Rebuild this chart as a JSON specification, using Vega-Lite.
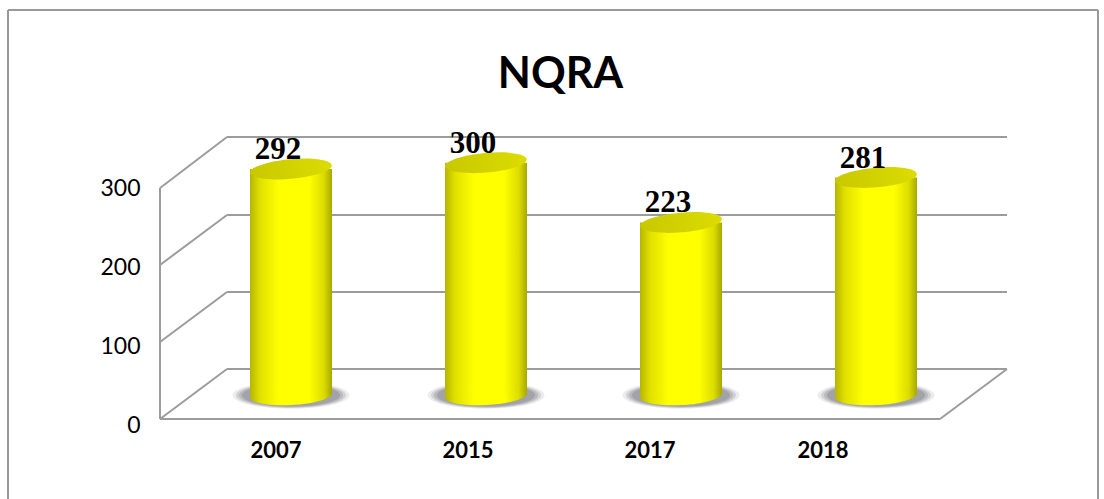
{"$schema":"https://vega.github.io/schema/vega-lite/v6.json","width":847,"height":320,"autosize":{"type":"none"},"padding":{"left":160,"top":110,"right":97,"bottom":69},"background":"white","title":{"text":"NQRA","font":"Lato","fontSize":43,"fontWeight":"bold","color":"#000000","anchor":"middle","dx":-23,"dy":108,"offset":20},"config":{"view":{"stroke":null}},"datasets":{"walls":[{"kind":"frame","a":-152,"b":-96.6,"a2":-152,"b2":524.8},{"kind":"frame","a":-152,"b":524.8,"a2":938,"b2":524.8},{"kind":"frame","a":938,"b":524.8,"a2":938,"b2":-96.6},{"kind":"wall","a":0,"b":5.1,"a2":0,"b2":298.6},{"kind":"wall","a":0,"b":5.1,"a2":780,"b2":5.1},{"kind":"wall","a":780,"b":5.1,"a2":847,"b2":68.6},{"kind":"wall","a":67,"b":68.6,"a2":847,"b2":68.6},{"kind":"wall","a":67,"b":166.5,"a2":847,"b2":166.5},{"kind":"wall","a":67,"b":264.3,"a2":847,"b2":264.3},{"kind":"wall","a":67,"b":363.4,"a2":847,"b2":363.4},{"kind":"wall","a":0,"b":5.1,"a2":67,"b2":68.6},{"kind":"wall","a":0,"b":102.9,"a2":67,"b2":166.5},{"kind":"wall","a":0,"b":200.8,"a2":67,"b2":264.3},{"kind":"wall","a":0,"b":298.6,"a2":67,"b2":363.4}],"bars":[{"year":"2007","value":292},{"year":"2015","value":300},{"year":"2017","value":223},{"year":"2018","value":281}]},"layer":[{"data":{"name":"walls"},"mark":{"type":"rule","strokeWidth":2},"encoding":{"x":{"field":"a","type":"quantitative","scale":{"domain":[0,847],"nice":false,"zero":false},"axis":null},"x2":{"field":"a2"},"y":{"field":"b","type":"quantitative","scale":{"domain":[-8.894,397.7],"nice":false,"zero":false},"axis":{"title":null,"values":[0,100,200,300],"grid":false,"domain":false,"ticks":false,"labelPadding":20,"labelOffset":2,"labelFont":"Lato","labelFontSize":23,"labelColor":"#000000"}},"y2":{"field":"b2"},"color":{"field":"kind","type":"nominal","legend":null,"scale":{"domain":["frame","wall"],"range":["#999999","#9c9c9c"]}}}},{"data":{"name":"bars"},"encoding":{"x":{"field":"year","type":"nominal","sort":null,"scale":{"type":"band","paddingInner":0.5795,"paddingOuter":0.4615,"align":0.5},"axis":{"title":null,"labelAngle":0,"domain":false,"ticks":false,"grid":false,"labelPadding":10,"labelFont":"Lato","labelFontSize":22,"labelFontWeight":"bold","labelColor":"#000000","encoding":{"labels":{"dx":{"value":{"expr":"datum.value==='2007'?-15:datum.value==='2015'?-18:datum.value==='2017'?-31:-53"}}}}}},"y":{"type":"quantitative","scale":{"domain":[-44.8,368.1],"nice":false,"zero":false},"axis":null}},"layer":[{"mark":{"type":"point","filled":true,"opacity":0.12,"color":"#5f5f6c","strokeWidth":0,"size":13689,"shape":"M-1,0C-1,-0.13,-0.55,-0.23,0,-0.23C0.55,-0.23,1,-0.13,1,0C1,0.13,0.55,0.23,0,0.23C-0.55,0.23,-1,0.13,-1,0Z"},"encoding":{"y":{"datum":0}}},{"mark":{"type":"point","filled":true,"opacity":0.18,"color":"#5f5f6c","strokeWidth":0,"size":12100,"shape":"M-1,0C-1,-0.13,-0.55,-0.23,0,-0.23C0.55,-0.23,1,-0.13,1,0C1,0.13,0.55,0.23,0,0.23C-0.55,0.23,-1,0.13,-1,0Z"},"encoding":{"y":{"datum":0}}},{"mark":{"type":"point","filled":true,"opacity":0.22,"color":"#5f5f6c","strokeWidth":0,"size":10816,"shape":"M-1,0C-1,-0.13,-0.55,-0.23,0,-0.23C0.55,-0.23,1,-0.13,1,0C1,0.13,0.55,0.23,0,0.23C-0.55,0.23,-1,0.13,-1,0Z"},"encoding":{"y":{"datum":0}}},{"mark":{"type":"point","filled":true,"opacity":0.25,"color":"#5f5f6c","strokeWidth":0,"size":9604,"shape":"M-1,0C-1,-0.13,-0.55,-0.23,0,-0.23C0.55,-0.23,1,-0.13,1,0C1,0.13,0.55,0.23,0,0.23C-0.55,0.23,-1,0.13,-1,0Z"},"encoding":{"y":{"datum":0}}},{"mark":{"type":"bar","width":82,"fill":{"gradient":"linear","x1":0,"y1":0,"x2":1,"y2":0,"stops":[{"offset":0,"color":"#b5b500"},{"offset":0.12,"color":"#e0e000"},{"offset":0.35,"color":"#ffff00"},{"offset":0.72,"color":"#ffff00"},{"offset":0.9,"color":"#dcdc00"},{"offset":1,"color":"#a8a800"}]}},"encoding":{"y":{"field":"value","type":"quantitative"},"y2":{"datum":0}}},{"mark":{"type":"point","filled":true,"opacity":1,"strokeWidth":0,"size":6724,"angle":-3,"shape":"M-1,0C-1,-0.13,-0.55,-0.24,0,-0.24C0.55,-0.24,1,-0.13,1,0C1,0.13,0.55,0.24,0,0.24C-0.55,0.24,-1,0.13,-1,0Z","fill":{"gradient":"linear","x1":0,"y1":0,"x2":1,"y2":0,"stops":[{"offset":0,"color":"#b5b500"},{"offset":0.12,"color":"#e0e000"},{"offset":0.35,"color":"#ffff00"},{"offset":0.72,"color":"#ffff00"},{"offset":0.9,"color":"#dcdc00"},{"offset":1,"color":"#a8a800"}]}},"encoding":{"y":{"datum":0}}},{"mark":{"type":"point","filled":true,"opacity":1,"strokeWidth":0,"size":6724,"angle":-5,"shape":"M-1,0C-1,-0.13,-0.55,-0.24,0,-0.24C0.55,-0.24,1,-0.13,1,0C1,0.13,0.55,0.24,0,0.24C-0.55,0.24,-1,0.13,-1,0Z","fill":{"gradient":"linear","x1":0,"y1":0,"x2":1,"y2":0,"stops":[{"offset":0,"color":"#c8c800"},{"offset":1,"color":"#dcdc00"}]}},"encoding":{"y":{"field":"value","type":"quantitative"}}},{"mark":{"type":"text","font":"Liberation Serif","fontSize":31,"fontWeight":"bold","color":"#000000","baseline":"alphabetic","dx":-13,"dy":-10},"encoding":{"y":{"field":"value","type":"quantitative"},"text":{"field":"value","type":"quantitative"}}}]}],"resolve":{"scale":{"x":"independent","y":"independent","color":"independent"},"axis":{"x":"independent","y":"independent"}}}
